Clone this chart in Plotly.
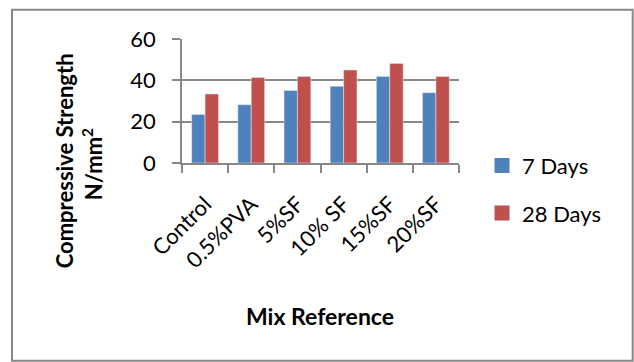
import plotly.graph_objects as go

categories = ["Control", "0.5%PVA", "5%SF", "10% SF", "15%SF", "20%SF"]
days7 = [23.5, 28.2, 35.1, 37.1, 41.9, 34.0]
days28 = [33.4, 41.4, 41.9, 45.0, 48.2, 41.9]
series_names = ["7 Days", "28 Days"]
series_colors = ["#4F81BD", "#C0504D"]
y_ticks = [0, 20, 40, 60]

FONT = "Lato"
GRID = "#878787"

fig = go.Figure()
for vals, name, col in zip([days7, days28], series_names, series_colors):
    fig.add_trace(go.Bar(x=categories, y=vals, name=name, marker_color=col,
                         showlegend=False))
# legend entries with larger square swatches
for name, col in zip(series_names, series_colors):
    fig.add_trace(go.Scatter(x=[None], y=[None], mode="markers", name=name,
                             legendgroup=name,
                             marker=dict(symbol="square", size=15, color=col)))

L, R, T, B = 182.3, 175, 39.3, 198.7
W, H = 634, 362
pw = W - L - R
ph = H - T - B

def px_x(p):
    return (p - L) / pw

def px_y(p):
    return (H - B - p) / ph

fig.update_layout(
    width=W, height=H,
    margin=dict(l=L, r=R, t=T, b=B, pad=0),
    paper_bgcolor="white", plot_bgcolor="white",
    barmode="group", bargap=0.42, bargroupgap=0,
    font=dict(family=FONT, size=22, color="black"),
    showlegend=True,
    legend=dict(x=px_x(482), y=px_y(145), xanchor="left", yanchor="top",
                font=dict(size=22), itemsizing="trace", tracegroupgap=16,
                bgcolor="rgba(0,0,0,0)"),
    xaxis=dict(
        showline=True, linecolor=GRID, linewidth=1.5,
        ticks="outside", tickson="boundaries", ticklen=8, tickcolor=GRID, tickwidth=1.5,
        tickangle=-45, tickfont=dict(size=22), ticklabelstandoff=18,
        showgrid=False, fixedrange=True,
    ),
    yaxis=dict(
        range=[0, 60], tickvals=y_ticks,
        showline=True, linecolor=GRID, linewidth=1.5,
        ticks="outside", ticklen=8, tickcolor=GRID, tickwidth=1.5,
        showgrid=True, gridcolor=GRID, gridwidth=1.5,
        tickfont=dict(size=22), zeroline=False, ticklabelstandoff=12,
        fixedrange=True,
    ),
    shapes=[
        dict(type="rect", xref="paper", yref="paper",
             x0=px_x(12.5), x1=px_x(632.5), y0=px_y(361), y1=px_y(10),
             line=dict(color="#888888", width=2), fillcolor="rgba(0,0,0,0)", layer="below"),
    ],
    annotations=[
        dict(text="<b>Compressive Strength</b>", xref="paper", yref="paper",
             x=px_x(65), y=px_y(161), textangle=-90, showarrow=False,
             font=dict(size=22), xanchor="center", yanchor="middle"),
        dict(text="<b>N/mm<sup>2</sup></b>", xref="paper", yref="paper",
             x=px_x(93), y=px_y(165), textangle=-90, showarrow=False,
             font=dict(size=22), xanchor="center", yanchor="middle"),
        dict(text="<b>Mix Reference</b>", xref="paper", yref="paper",
             x=px_x(320), y=px_y(316), showarrow=False,
             font=dict(size=23), xanchor="center", yanchor="middle"),
    ],
)

fig.write_html("out.html", config={"displayModeBar": False},
               post_script="document.body.style.margin='0';")
